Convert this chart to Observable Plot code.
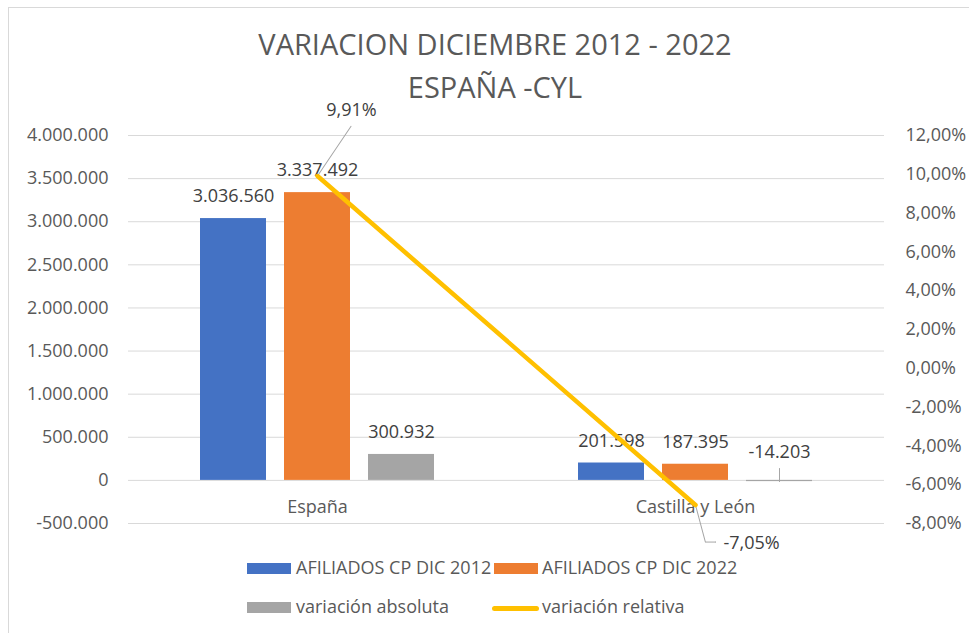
<!DOCTYPE html>
<html><head><meta charset="utf-8">
<script src="https://cdn.jsdelivr.net/npm/d3@7"></script>
<script src="https://cdn.jsdelivr.net/npm/@observablehq/plot@0.6"></script>
<style>
html,body{margin:0;padding:0;overflow:hidden;background:#fff;}
#wrap{position:relative;width:969px;height:633px;font-family:"Open Sans",sans-serif;color:#595959;overflow:hidden;}
#frame{position:absolute;left:8px;top:7px;width:990px;height:660px;border:1px solid #d9d9d9;box-sizing:border-box;}
.layer{position:absolute;left:0;top:0;}
#title{position:absolute;left:0;width:990px;top:22px;text-align:center;font-size:29px;line-height:43px;}
.leg{position:absolute;font-size:18px;line-height:24px;white-space:nowrap;}
.sw{position:absolute;}
</style></head>
<body><div id="wrap">
<div id="frame"></div>
<div id="chart"></div>
<div id="title">VARIACION DICIEMBRE 2012 - 2022<br>ESPAÑA -CYL</div>
<div id="legend"></div>
</div>
<script>
// ---- data ----
const regions = ["España", "Castilla y León"];
const series = ["AFILIADOS CP DIC 2012", "AFILIADOS CP DIC 2022", "variación absoluta"];
const afiliados2012 = [3036560, 201598];
const afiliados2022 = [3337492, 187395];
const variacionAbsoluta = [300932, -14203];
const variacionRelativa = [0.0991, -0.0705];
const relLabel = "variación relativa";
const leftTicks = [-500000, 0, 500000, 1000000, 1500000, 2000000, 2500000, 3000000, 3500000, 4000000];
const rightTicks = [-0.08, -0.06, -0.04, -0.02, 0, 0.02, 0.04, 0.06, 0.08, 0.10, 0.12];
const barColors = ["#4472C4", "#ED7D31", "#A5A5A5"];
const lineColor = "#FFC000";

// ---- formats ----
const locale = d3.formatLocale({decimal: ",", thousands: ".", grouping: [3], currency: ["", ""], minus: "-"});
const fmtInt = locale.format(",d");
const fmtPct = locale.format(".2%");

// ---- tables ----
const seriesValues = [afiliados2012, afiliados2022, variacionAbsoluta];
const bars = regions.flatMap((r, i) => series.map((s, j) => ({region: r, series: s, value: seriesValues[j][i]})));
const rel = regions.map((r, i) => ({region: r, value: variacionRelativa[i]}));

const W = 969, H = 633;
const margins = {marginTop: 135, marginRight: 85, marginBottom: 110, marginLeft: 128};
const baseStyle = {fontFamily: '"Open Sans", sans-serif', fontSize: "18px", color: "#595959", background: "transparent", overflow: "visible"};
const labelColor = "#404040";
const leaderColor = "#A6A6A6";

const main = Plot.plot({
  width: W, height: H, ...margins,
  style: baseStyle,
  fx: {domain: regions, padding: 0, axis: null},
  x: {domain: series, paddingInner: 0.22, paddingOuter: 0.86, axis: null},
  y: {domain: [-500000, 4000000], ticks: leftTicks, tickFormat: fmtInt, tickSize: 0, tickPadding: 20, label: null},
  color: {domain: series, range: barColors},
  marks: [
    Plot.gridY(leftTicks, {stroke: "#D9D9D9", strokeOpacity: 1, strokeWidth: 1}),
    Plot.barY(bars, {fx: "region", x: "series", y: "value", fill: "series"}),
    Plot.text(bars.filter(d => d.value >= 0), {fx: "region", x: "series", y: "value", text: d => fmtInt(d.value), dy: -22, fill: labelColor}),
    Plot.text(bars.filter(d => d.value < 0), {fx: "region", x: "series", y: "value", text: d => fmtInt(d.value), dy: -29, fill: labelColor}),
    Plot.vector(bars.filter(d => d.value < 0), {fx: "region", x: "series", y: "value", anchor: "start", length: 13, rotate: 0, r: 0, stroke: leaderColor, strokeWidth: 1}),
    Plot.text(regions, {fx: d => d, y: d => 0, text: d => d, dy: 27})
  ]
});
main.classList.add("layer");

const over = Plot.plot({
  width: W, height: H, ...margins,
  style: baseStyle,
  x: {type: "band", domain: regions, padding: 0, axis: null},
  y: {domain: [-0.08, 0.12], axis: "right", ticks: rightTicks, tickFormat: fmtPct, tickSize: 0, tickPadding: 21, label: null},
  marks: [
    Plot.vector(rel.filter(d => d.value > 0), {x: "region", y: "value", anchor: "start", length: 60, rotate: 34, r: 0, stroke: leaderColor, strokeWidth: 1}),
    Plot.vector(rel.filter(d => d.value < 0), {x: "region", y: "value", anchor: "start", length: 38, rotate: 165, r: 0, stroke: leaderColor, strokeWidth: 1}),
    Plot.vector(rel.filter(d => d.value < 0), {x: "region", y: "value", anchor: "start", length: 10, rotate: 90, r: 0, dx: 10, dy: 37, stroke: leaderColor, strokeWidth: 1}),
    Plot.line(rel, {x: "region", y: "value", stroke: lineColor, strokeWidth: 4.5, strokeLinecap: "round"}),
    Plot.text(rel.filter(d => d.value > 0), {x: "region", y: "value", text: d => fmtPct(d.value), dx: 34, dy: -66, fill: labelColor}),
    Plot.text(rel.filter(d => d.value < 0), {x: "region", y: "value", text: d => fmtPct(d.value), dx: 28, dy: 38, textAnchor: "start", fill: labelColor})
  ]
});
over.classList.add("layer");

const chart = document.getElementById("chart");
chart.appendChild(main);
chart.appendChild(over);

// ---- legend ----
const legend = document.getElementById("legend");
const items = [
  {label: series[0], color: barColors[0], kind: "rect", x: 247, y: 563, tx: 296, ty: 555},
  {label: series[1], color: barColors[1], kind: "rect", x: 494, y: 563, tx: 542, ty: 555},
  {label: series[2], color: barColors[2], kind: "rect", x: 247, y: 602, tx: 296, ty: 594},
  {label: relLabel, color: lineColor, kind: "line", x: 492, y: 606, tx: 542, ty: 594}
];
for (const it of items) {
  const sw = document.createElement("div");
  sw.className = "sw";
  if (it.kind === "rect") {
    Object.assign(sw.style, {left: it.x + "px", top: it.y + "px", width: "44px", height: "11px", background: it.color});
  } else {
    Object.assign(sw.style, {left: it.x + "px", top: it.y + "px", width: "47px", height: "4.5px", background: it.color, borderRadius: "3px"});
  }
  legend.appendChild(sw);
  const t = document.createElement("div");
  t.className = "leg";
  t.style.left = it.tx + "px";
  t.style.top = it.ty + "px";
  t.textContent = it.label;
  legend.appendChild(t);
}
</script>
</body></html>
